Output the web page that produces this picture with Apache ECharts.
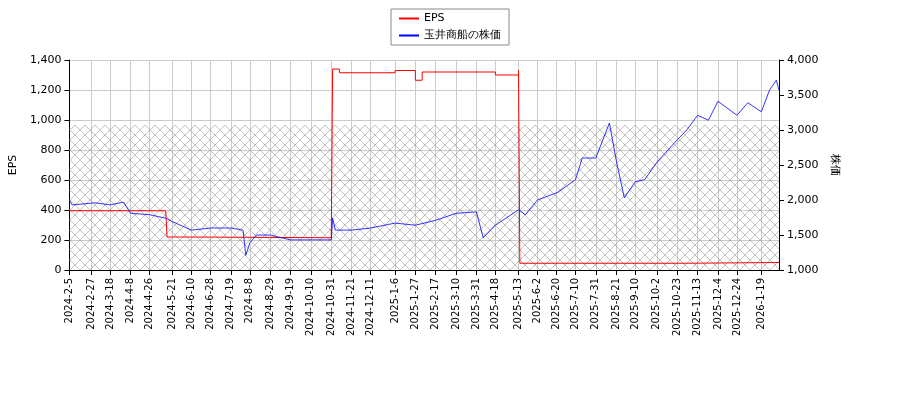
<!DOCTYPE html>
<html><head><meta charset="utf-8">
<script src="https://cdn.jsdelivr.net/npm/echarts@6/dist/echarts.min.js"></script>
</head><body style="margin:0">
<div id="chart" style="width:900px;height:400px"></div>
<script>
var NAME_EPS = 'EPS';
var NAME_PRICE = '玉井商船の株価';
var tickLabels = ['2024-2-5','2024-2-27','2024-3-18','2024-4-8','2024-4-26','2024-5-21','2024-6-10','2024-6-28','2024-7-19','2024-8-8','2024-8-29','2024-9-19','2024-10-10','2024-10-31','2024-11-21','2024-12-11','2025-1-6','2025-1-27','2025-2-17','2025-3-10','2025-3-31','2025-4-18','2025-5-13','2025-6-2','2025-6-20','2025-7-10','2025-7-31','2025-8-21','2025-9-10','2025-10-2','2025-10-23','2025-11-13','2025-12-4','2025-12-24','2026-1-19'];
var epsDates = ['2024-2-5','2024-5-14','2024-5-15','2024-6-10','2024-10-31','2024-11-1','2024-11-8','2025-1-6','2025-1-27','2025-2-3','2025-4-18','2025-5-13','2025-5-14','2025-10-31','2025-11-3','2026-2-5'];
var epsValues = [395, 395, 220, 215, 220, 1340, 1315, 1330, 1265, 1320, 1300, 1330, 45, 45, 50, 50];
var priceDates = ['2024-2-5','2024-2-7','2024-3-1','2024-3-18','2024-4-1','2024-4-8','2024-4-26','2024-5-14','2024-5-21','2024-6-10','2024-6-28','2024-7-19','2024-8-1','2024-8-5','2024-8-8','2024-8-15','2024-8-29','2024-9-19','2024-10-10','2024-10-31','2024-11-1','2024-11-5','2024-11-21','2024-12-11','2025-1-6','2025-1-27','2025-2-17','2025-3-10','2025-3-31','2025-4-7','2025-4-18','2025-5-13','2025-5-20','2025-6-2','2025-6-23','2025-7-10','2025-7-17','2025-7-31','2025-8-14','2025-8-21','2025-8-29','2025-9-10','2025-9-19','2025-10-2','2025-10-23','2025-11-3','2025-11-13','2025-11-25','2025-12-4','2025-12-24','2026-1-5','2026-1-19','2026-1-27','2026-2-3','2026-2-5'];
var priceValues = [2000,1930,1960,1930,1970,1810,1790,1740,1690,1570,1600,1600,1570,1210,1390,1500,1500,1430,1430,1430,1740,1570,1570,1600,1670,1640,1710,1810,1830,1460,1640,1860,1790,2000,2110,2290,2600,2600,3100,2570,2030,2260,2290,2540,2860,3000,3210,3140,3410,3210,3390,3260,3570,3710,3570];

// trading-day axis (weekdays)
var days = [];
for (var d = new Date(2024, 1, 5); d <= new Date(2026, 1, 5); d.setDate(d.getDate() + 1)) {
    if (d.getDay() === 0 || d.getDay() === 6) continue;
    days.push(d.getFullYear() + '-' + (d.getMonth() + 1) + '-' + d.getDate());
}
function pairs(xs, ys) { return xs.map(function (x, i) { return [x, ys[i]]; }); }

var pat = document.createElement('canvas');
pat.width = 10; pat.height = 10;
var g = pat.getContext('2d');
g.strokeStyle = '#999'; g.lineWidth = 0.6;
g.beginPath(); g.moveTo(0, 0); g.lineTo(10, 10); g.moveTo(10, 0); g.lineTo(0, 10); g.stroke();

var myChart = echarts.init(document.getElementById('chart'));
var option = {
    animation: false,
    textStyle: {fontFamily: 'DejaVu Sans'},
    legend: {
        top: 9, left: 'center', orient: 'vertical', itemWidth: 20, itemHeight: 2,
        borderColor: '#888', borderWidth: 1, padding: [4, 8], itemGap: 6,
        textStyle: {fontSize: 11, color: '#000'},
        data: [{name: NAME_EPS, icon: 'rect'}, {name: NAME_PRICE, icon: 'rect'}]
    },
    grid: {left: 61, right: 121, top: 60, bottom: 130},
    xAxis: {
        type: 'category', data: days, boundaryGap: false,
        axisLine: {lineStyle: {color: '#000'}},
        axisTick: {interval: function (i, v) { return tickLabels.indexOf(v) >= 0; }, lineStyle: {color: '#000'}},
        axisLabel: {rotate: 90, fontSize: 10, color: '#000', interval: function (i, v) { return tickLabels.indexOf(v) >= 0; }},
        splitLine: {show: true, interval: function (i, v) { return tickLabels.indexOf(v) >= 0; }, lineStyle: {color: '#ccc'}}
    },
    yAxis: [{
        type: 'value', min: 0, max: 1400, interval: 200, name: 'EPS',
        nameLocation: 'middle', nameGap: 38, nameRotate: 90, nameTextStyle: {color: '#000', fontSize: 11},
        axisLine: {show: true, lineStyle: {color: '#000'}}, axisTick: {show: true},
        axisLabel: {color: '#000', fontSize: 11}, splitLine: {lineStyle: {color: '#ccc'}}
    }, {
        type: 'value', min: 1000, max: 4000, interval: 500, name: '株価',
        nameLocation: 'middle', nameGap: 50, nameRotate: -90, nameTextStyle: {color: '#000', fontSize: 11},
        axisLine: {show: true, lineStyle: {color: '#000'}}, axisTick: {show: true},
        axisLabel: {color: '#000', fontSize: 11}, splitLine: {show: false}
    }],
    series: [{
        name: NAME_EPS, type: 'line', step: 'end', symbol: 'none', color: '#ff0000',
        lineStyle: {width: 1}, data: pairs(epsDates, epsValues),
        markArea: {silent: true, itemStyle: {color: {image: pat, repeat: 'repeat'}, opacity: 1},
            data: [[{yAxis: 0, xAxis: days[0]}, {yAxis: 967, xAxis: days[days.length - 1]}]]}
    }, {
        name: NAME_PRICE, type: 'line', yAxisIndex: 1, symbol: 'none', color: '#0000ff',
        lineStyle: {width: 0.8}, data: pairs(priceDates, priceValues)
    }]
};
myChart.setOption(option);
</script>
</body></html>
